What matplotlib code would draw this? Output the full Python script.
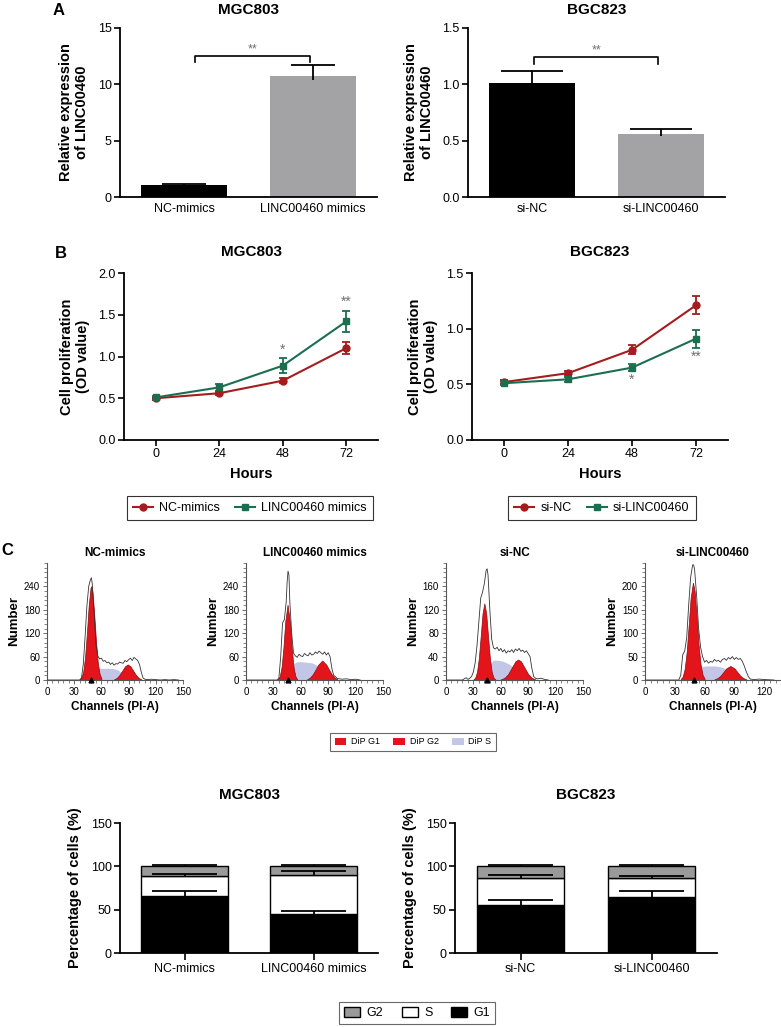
import numpy as np
import matplotlib.pyplot as plt
from matplotlib.patches import Patch
from matplotlib.lines import Line2D
from matplotlib.ticker import AutoMinorLocator

plt.rcParams['font.family'] = ['Liberation Sans', 'DejaVu Sans']

# ---------------- data ----------------
# A: relative expression
a_mgc_groups = ['NC-mimics', 'LINC00460 mimics']
a_mgc_mean = [1.05, 10.7]
a_mgc_err = [0.08, 1.05]
a_bgc_groups = ['si-NC', 'si-LINC00460']
a_bgc_mean = [1.01, 0.555]
a_bgc_err = [0.11, 0.045]

# B: proliferation
hours = [0, 24, 48, 72]
b_mgc_nc = [0.50, 0.56, 0.71, 1.10]
b_mgc_nc_err = [0.02, 0.02, 0.03, 0.07]
b_mgc_linc = [0.51, 0.63, 0.89, 1.42]
b_mgc_linc_err = [0.02, 0.04, 0.09, 0.13]
b_bgc_nc = [0.52, 0.60, 0.81, 1.21]
b_bgc_nc_err = [0.02, 0.02, 0.04, 0.08]
b_bgc_si = [0.51, 0.545, 0.65, 0.91]
b_bgc_si_err = [0.02, 0.02, 0.03, 0.08]

# C: flow cytometry histograms (channel, count)
hist_titles = ['NC-mimics', 'LINC00460 mimics', 'si-NC', 'si-LINC00460']
hist_ymax = [300, 300, 200, 250]
hist_yticks = [[0, 60, 120, 180, 240], [0, 60, 120, 180, 240],
               [0, 40, 80, 120, 160], [0, 50, 100, 150, 200]]
hist_xmax = [150, 150, 150, 137]
hist_xticks = [[0, 30, 60, 90, 120, 150], [0, 30, 60, 90, 120, 150],
               [0, 30, 60, 90, 120, 150], [0, 30, 60, 90, 120]]
g1_marker = [49, 46, 45, 49]

outline_x = [
    [0, 36, 38, 40, 42, 44, 46, 48, 49, 50, 52, 54, 56, 58, 60, 62, 64, 66, 68, 70, 72, 74, 76, 78, 80,
     82, 84, 86, 88, 90, 92, 94, 96, 98, 100, 102, 104, 106, 108, 110, 115, 120, 125, 130, 135, 140, 145],
    [0, 34, 36, 38, 40, 42, 44, 45, 46, 47, 48, 50, 52, 54, 56, 58, 60, 62, 64, 66, 68, 70, 72, 74, 76,
     78, 80, 82, 84, 86, 88, 90, 92, 94, 96, 98, 100, 105, 110, 115, 120, 125],
    [0, 18, 20, 22, 24, 26, 28, 30, 32, 34, 36, 38, 40, 42, 44, 45, 46, 48, 50, 52, 54, 56, 58, 60, 62,
     64, 66, 68, 70, 72, 74, 76, 78, 80, 82, 84, 86, 88, 90, 92, 94, 96, 98, 100, 104, 108, 112],
    [0, 34, 36, 38, 40, 42, 44, 46, 48, 49, 50, 52, 54, 56, 58, 60, 62, 64, 66, 68, 70, 72, 74, 76, 78,
     80, 82, 84, 86, 88, 90, 92, 94, 96, 98, 100, 102, 104, 106, 110, 115, 120, 130],
]
outline_y = [
    [0, 0, 5, 40, 110, 190, 240, 258, 262, 245, 170, 90, 62, 54, 56, 48, 50, 44, 46, 40, 44, 38, 42, 41,
     46, 44, 43, 50, 47, 52, 56, 50, 58, 54, 50, 40, 20, 5, 2, 1, 2, 1, 0, 1, 0, 1, 0],
    [0, 0, 5, 60, 146, 155, 200, 250, 279, 270, 200, 120, 69, 62, 58, 66, 62, 60, 68, 64, 62, 70, 64,
     66, 72, 68, 74, 70, 66, 72, 64, 70, 60, 30, 12, 8, 4, 2, 3, 1, 2, 0],
    [0, 0, 2, 4, 1, 3, 6, 14, 30, 60, 100, 140, 150, 165, 188, 190, 180, 120, 70, 55, 53, 56, 50, 54,
     48, 52, 46, 50, 48, 52, 47, 53, 50, 54, 49, 51, 47, 50, 45, 40, 20, 6, 3, 2, 3, 1, 0],
    [0, 0, 10, 54, 62, 90, 160, 220, 246, 246, 235, 180, 110, 70, 50, 38, 42, 36, 40, 38, 44, 40, 42,
     38, 44, 46, 42, 48, 45, 50, 44, 48, 44, 46, 40, 30, 18, 8, 2, 1, 2, 1, 0],
]
g1_x = [
    [36, 38, 40, 42, 44, 46, 48, 48.7, 50, 52, 54, 56, 58, 60],
    [35, 37, 39, 41, 43, 45.5, 48, 50, 52, 54, 56],
    [30, 32, 34, 36, 38, 40, 42, 44, 46, 48, 50, 52, 54],
    [36, 38, 40, 42, 44, 46, 48.3, 50, 52, 54, 56, 58, 60],
]
g1_y = [
    [1.5, 7, 22, 59, 120, 191, 236, 240, 228, 171, 100, 45, 16, 4],
    [2, 10, 34, 84, 150, 193, 150, 84, 34, 10, 2],
    [1, 4, 14, 38, 75, 114, 131, 114, 75, 38, 14, 4, 1],
    [2, 7.5, 24, 60, 117, 176, 208, 190, 136, 75, 33, 11, 3],
]
g2_x = [
    [74, 77, 80, 83, 86, 89, 92, 95, 98, 101, 104],
    [67, 70, 73, 76, 79, 83.5, 88, 91, 94, 97, 100],
    [60, 64, 68, 72, 76, 79, 82, 86, 90, 94, 98],
    [70, 73, 76, 79, 82, 86, 90, 93, 96, 99, 102],
]
g2_y = [
    [1.8, 5.4, 13, 24, 35, 40, 35, 24, 13, 5.4, 1.8],
    [2, 6, 14, 26, 39, 50, 39, 26, 14, 6, 2],
    [1, 3.5, 10, 21, 32, 35, 32, 21, 10, 3.5, 1],
    [1.5, 4, 9, 17, 25, 30, 25, 17, 9, 4, 1.5],
]
s_x = [
    [46, 50, 54, 58, 62, 66, 70, 74, 78, 82, 86, 90, 94],
    [44, 48, 52, 56, 60, 64, 68, 72, 76, 80, 84, 88, 92],
    [40, 44, 48, 52, 56, 60, 64, 68, 72, 76, 80, 84, 88],
    [46, 50, 54, 58, 62, 66, 70, 74, 78, 82, 86, 90, 94, 98],
]
s_y = [
    [0, 18, 28, 30, 30, 30, 30, 29, 26, 20, 12, 5, 0],
    [0, 25, 42, 47, 47, 46, 45, 44, 40, 32, 20, 8, 0],
    [0, 15, 28, 34, 34, 33, 31, 28, 24, 18, 12, 5, 0],
    [0, 14, 24, 29, 30, 30, 30, 29, 27, 23, 17, 10, 4, 0],
]

# C bottom: cell cycle percentages
c_mgc_groups = ['NC-mimics', 'LINC00460 mimics']
c_mgc_g1 = [66, 45]
c_mgc_s = [23, 45]
c_mgc_g2 = [11, 10]
c_mgc_g1_err = [6, 4]
c_mgc_s_err = [2, 5]
c_mgc_g2_err = [2, 2]
c_bgc_groups = ['si-NC', 'si-LINC00460']
c_bgc_g1 = [55, 65]
c_bgc_s = [32, 22]
c_bgc_g2 = [13, 13]
c_bgc_g1_err = [6, 6]
c_bgc_s_err = [3, 2]
c_bgc_g2_err = [2, 2]

# ---------------- layout helpers ----------------
W, H = 781, 1027
fig = plt.figure(figsize=(W / 100, H / 100), dpi=100)


def px_axes(l, t, r, b):
    return fig.add_axes([l / W, 1 - b / H, (r - l) / W, (b - t) / H])


def prism(ax, fs=9):
    for s in ['top', 'right']:
        ax.spines[s].set_visible(False)
    for s in ['left', 'bottom']:
        ax.spines[s].set_linewidth(1.3)
    ax.tick_params(direction='out', length=4, width=1.2, labelsize=fs, pad=2)


def up_err(ax, x, top, err, half, lw=1.3):
    x = np.asarray(x, float)
    top = np.asarray(top, float)
    err = np.asarray(err, float)
    ax.vlines(x, top - err * 0.3, top + err, color='black', lw=lw, zorder=4)
    ax.hlines(top + err, x - half, x + half, color='black', lw=lw, zorder=4)


star_col = '#707070'
red = '#a51c1f'
green = '#1b6e50'
bar_gray = '#a3a3a6'

# ---------------- A ----------------
ax = px_axes(120, 28, 377, 197)
prism(ax)
xa = np.arange(2)
ax.bar(xa, a_mgc_mean, width=0.67, color=['black', bar_gray])
up_err(ax, xa, a_mgc_mean, a_mgc_err, 0.17)
ax.set_xlim(-0.5, 1.5)
ax.set_ylim(0, 15)
ax.set_yticks([0, 5, 10, 15])
ax.set_xticks(xa)
ax.set_xticklabels(a_mgc_groups)
ax.tick_params(axis='x', length=0, pad=4)
ax.set_ylabel('Relative expression\nof LINC00460', fontsize=10.5, fontweight='bold', labelpad=6)
ax.set_title('MGC803', fontsize=11, fontweight='bold', pad=10)
ax.plot([0.08, 0.08, 0.98, 0.98], [12.0, 12.5, 12.5, 12.0], color='black', lw=1.2)
ax.text(0.53, 12.6, '**', ha='center', va='bottom', fontsize=9, color=star_col)

ax = px_axes(468, 28, 725, 197)
prism(ax)
ax.bar(xa, a_bgc_mean, width=0.67, color=['black', bar_gray])
up_err(ax, xa, a_bgc_mean, a_bgc_err, 0.24)
ax.set_xlim(-0.5, 1.5)
ax.set_ylim(0, 1.5)
ax.set_yticks([0, 0.5, 1.0, 1.5])
ax.set_yticklabels(['0.0', '0.5', '1.0', '1.5'])
ax.set_xticks(xa)
ax.set_xticklabels(a_bgc_groups)
ax.tick_params(axis='x', length=0, pad=4)
ax.set_ylabel('Relative expression\nof LINC00460', fontsize=10.5, fontweight='bold', labelpad=6)
ax.set_title('BGC823', fontsize=11, fontweight='bold', pad=10)
ax.plot([0.01, 0.01, 0.98, 0.98], [1.18, 1.24, 1.24, 1.18], color='black', lw=1.2)
ax.text(0.5, 1.25, '**', ha='center', va='bottom', fontsize=9, color=star_col)

# ---------------- B ----------------
def prolif(ax, a, a_err, b, b_err, ymax, yticks, title):
    prism(ax)
    ax.errorbar(hours, a, yerr=a_err, color=red, marker='o', ms=5, lw=1.5,
                capsize=3, elinewidth=1.3, capthick=1.3, zorder=3)
    ax.errorbar(hours, b, yerr=b_err, color=green, marker='s', ms=5, lw=1.5,
                capsize=3, elinewidth=1.3, capthick=1.3, zorder=3)
    ax.set_xlim(-12, 84)
    ax.set_ylim(0, ymax)
    ax.set_yticks(yticks)
    ax.set_yticklabels(['%.1f' % v for v in yticks])
    ax.set_xticks(hours)
    ax.set_xlabel('Hours', fontsize=10.5, fontweight='bold', labelpad=5)
    ax.set_ylabel('Cell proliferation\n(OD value)', fontsize=10.5, fontweight='bold', labelpad=6)
    ax.set_title(title, fontsize=11, fontweight='bold', pad=12)


ax = px_axes(124, 273, 378, 440)
prolif(ax, b_mgc_nc, b_mgc_nc_err, b_mgc_linc, b_mgc_linc_err, 2.0, [0, 0.5, 1.0, 1.5, 2.0], 'MGC803')
ax.text(48, b_mgc_linc[2] + b_mgc_linc_err[2] + 0.02, '*', ha='center', va='bottom', fontsize=10, color=star_col)
ax.text(72, b_mgc_linc[3] + b_mgc_linc_err[3] + 0.02, '**', ha='center', va='bottom', fontsize=10, color=star_col)

ax = px_axes(472, 273, 728, 440)
prolif(ax, b_bgc_nc, b_bgc_nc_err, b_bgc_si, b_bgc_si_err, 1.5, [0, 0.5, 1.0, 1.5], 'BGC823')
ax.text(48, b_bgc_si[2] - b_bgc_si_err[2] - 0.02, '*', ha='center', va='top', fontsize=10, color=star_col)
ax.text(72, b_bgc_si[3] - b_bgc_si_err[3] - 0.02, '**', ha='center', va='top', fontsize=10, color=star_col)

leg_kw = dict(loc='center', ncol=2, fontsize=9, frameon=True, fancybox=False, edgecolor='black',
              handlelength=1.6, columnspacing=1.2, handletextpad=0.5, borderpad=0.5)
h1 = Line2D([], [], color=red, marker='o', ms=5, lw=1.5)
h2 = Line2D([], [], color=green, marker='s', ms=5, lw=1.5)
lg = fig.legend([h1, h2], ['NC-mimics', 'LINC00460 mimics'], bbox_to_anchor=(250 / W, 1 - 508 / H), **leg_kw)
lg.get_frame().set_linewidth(0.8)
lg = fig.legend([h1, h2], ['si-NC', 'si-LINC00460'], bbox_to_anchor=(602 / W, 1 - 508 / H), **leg_kw)
lg.get_frame().set_linewidth(0.8)

# ---------------- C histograms ----------------
peak_red = '#e3151b'
s_col = '#c3c6e6'
hist_pos = [(47, 563, 183, 680), (246, 563, 383, 680), (446, 563, 583, 680), (645, 563, 781, 680)]
for i in range(4):
    ax = px_axes(*hist_pos[i])
    for s in ['top', 'right']:
        ax.spines[s].set_visible(False)
    for s in ['left', 'bottom']:
        ax.spines[s].set_linewidth(0.8)
        ax.spines[s].set_color('#555555')
    ax.fill_between(s_x[i], s_y[i], color=s_col, lw=0, zorder=1)
    ax.fill_between(g1_x[i], g1_y[i], color=peak_red, edgecolor='#8a0d10', lw=0.5, zorder=2)
    ax.fill_between(g2_x[i], g2_y[i], color=peak_red, edgecolor='#8a0d10', lw=0.5, zorder=2)
    ax.plot(outline_x[i], outline_y[i], color='#333333', lw=0.6, zorder=3)
    ax.plot([g1_marker[i]], [0], marker='^', color='black', ms=3.5, clip_on=False, zorder=5)
    ax.set_xlim(0, hist_xmax[i])
    ax.set_ylim(0, hist_ymax[i])
    ax.set_xticks(hist_xticks[i])
    ax.set_yticks(hist_yticks[i])
    ax.xaxis.set_minor_locator(AutoMinorLocator(5))
    ax.yaxis.set_minor_locator(AutoMinorLocator(5))
    ax.tick_params(which='major', direction='out', length=3, width=0.6, labelsize=7, pad=2, color='#555555')
    ax.tick_params(which='minor', direction='out', length=2, width=0.5, color='#555555')
    ax.set_title(hist_titles[i], fontsize=8.5, fontweight='bold', pad=5)
    ax.set_xlabel('Channels (PI-A)', fontsize=8.5, fontweight='bold', labelpad=3)
    ax.set_ylabel('Number', fontsize=9.5, fontweight='bold', labelpad=3)

hh = [Patch(facecolor=peak_red, edgecolor='none'), Patch(facecolor=peak_red, edgecolor='none'),
      Patch(facecolor=s_col, edgecolor='none')]
lg = fig.legend(hh, ['DiP G1', 'DiP G2', 'DiP S'], loc='center', ncol=3, fontsize=6.5,
                bbox_to_anchor=(413 / W, 1 - 742 / H), frameon=True, fancybox=False,
                edgecolor='#444444', handlelength=1.3, handleheight=0.8, columnspacing=1.5,
                handletextpad=0.5, borderpad=0.5)
lg.get_frame().set_linewidth(0.8)

# ---------------- C cell cycle bars ----------------
def cycle(ax, groups, g1, s, g2, g1e, se, g2e, title):
    prism(ax)
    x = np.arange(len(groups))
    g1 = np.asarray(g1, float)
    s = np.asarray(s, float)
    g2 = np.asarray(g2, float)
    ax.bar(x, g1, width=0.67, color='black', edgecolor='black', lw=1.0, zorder=2)
    ax.bar(x, s, width=0.67, bottom=g1, color='white', edgecolor='black', lw=1.0, zorder=2)
    ax.bar(x, g2, width=0.67, bottom=g1 + s, color='#9a9a9a', edgecolor='black', lw=1.0, zorder=2)
    up_err(ax, x, g1, g1e, 0.25)
    up_err(ax, x, g1 + s, se, 0.25)
    up_err(ax, x, g1 + s + g2, g2e, 0.25)
    ax.set_xlim(-0.5, 1.5)
    ax.set_ylim(0, 150)
    ax.set_yticks([0, 50, 100, 150])
    ax.set_xticks(x)
    ax.set_xticklabels(groups)
    ax.tick_params(axis='x', length=5)
    ax.set_ylabel('Percentage of cells (%)', fontsize=10.5, fontweight='bold', labelpad=6)
    ax.set_title(title, fontsize=11, fontweight='bold', pad=17)


ax = px_axes(120, 823, 378, 953)
cycle(ax, c_mgc_groups, c_mgc_g1, c_mgc_s, c_mgc_g2, c_mgc_g1_err, c_mgc_s_err, c_mgc_g2_err, 'MGC803')
ax = px_axes(455, 823, 717, 953)
cycle(ax, c_bgc_groups, c_bgc_g1, c_bgc_s, c_bgc_g2, c_bgc_g1_err, c_bgc_s_err, c_bgc_g2_err, 'BGC823')

hb = [Patch(facecolor='#9a9a9a', edgecolor='black'), Patch(facecolor='white', edgecolor='black'),
      Patch(facecolor='black', edgecolor='black')]
lg = fig.legend(hb, ['G2', 'S', 'G1'], loc='center', ncol=3, fontsize=9,
                bbox_to_anchor=(417 / W, 1 - 1013 / H), frameon=True, fancybox=False,
                edgecolor='#444444', handlelength=1.3, handleheight=0.9, columnspacing=1.5,
                handletextpad=0.5, borderpad=0.4)
lg.get_frame().set_linewidth(0.8)

# panel letters
fig.text(53 / W, 1 - 15 / H, 'A', fontsize=12, fontweight='bold')
fig.text(55 / W, 1 - 258 / H, 'B', fontsize=12, fontweight='bold')
fig.text(1 / W, 1 - 555 / H, 'C', fontsize=12, fontweight='bold')

fig.savefig('out.png', dpi=100)
